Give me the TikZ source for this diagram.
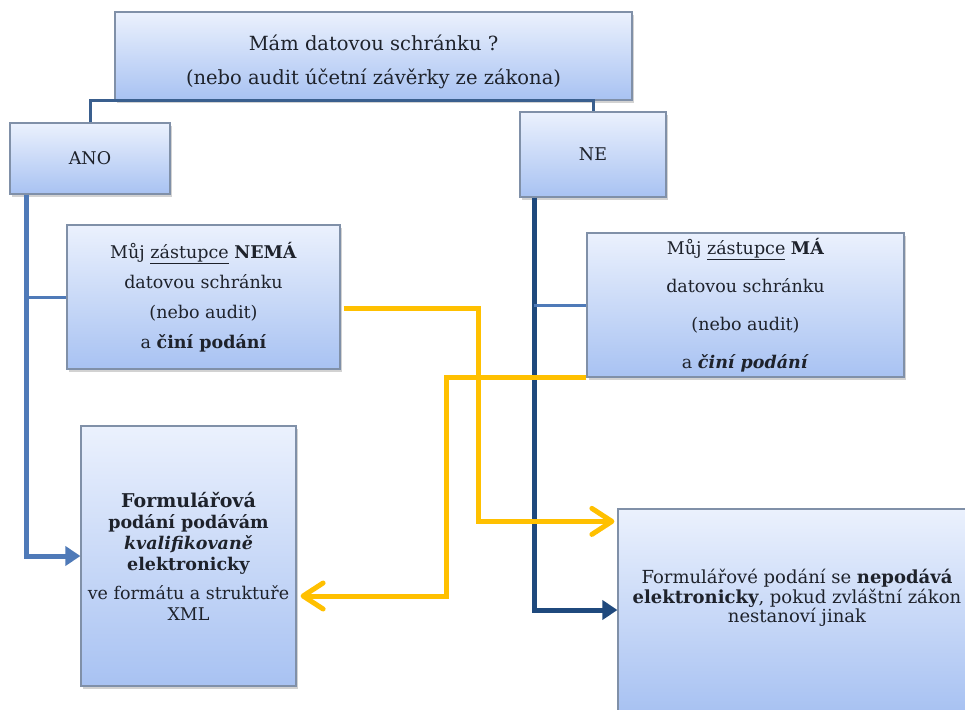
\documentclass[tikz,border=0pt]{standalone}
\usepackage{fontspec}
\setmainfont{DejaVu Serif}
\usetikzlibrary{arrows.meta, positioning, calc, shadows}
\definecolor{boxtop}{HTML}{EBF1FD}
\definecolor{boxbot}{HTML}{A8C2F2}
\definecolor{boxedge}{HTML}{8090A8}
\definecolor{anoblue}{HTML}{4F7AB8}
\definecolor{neblue}{HTML}{1F497D}
\definecolor{topblue}{HTML}{3A5F8E}
\definecolor{gold}{HTML}{FFC000}
\definecolor{ink}{HTML}{1E222B}

\begin{document}
\begin{tikzpicture}[x=1pt, y=-1pt, text=ink,
   box/.style={rectangle, draw=boxedge, line width=1.2pt, top color=boxtop, bottom color=boxbot,
     inner sep=0pt, align=center, drop shadow={shadow xshift=2pt, shadow yshift=-3pt, opacity=.35}},
   stem/.style={line width=5pt},
   twig/.style={line width=3pt},
   tip/.style={-{Triangle[length=15pt, width=19pt]}},
   goldarrow/.style={gold, line width=5pt, -{Straight Barb[length=20pt, width=26pt, round]}}]
\path[use as bounding box, fill=white] (0,0) rectangle (965,709);
\clip (0,0) rectangle (965,709);

\node[box, minimum width=517pt, minimum height=88pt, font=\fontsize{19.5}{34}\selectfont] (Top) at (373.5,56)
  {\rule{0pt}{28pt}Mám datovou schránku ?\\(nebo audit účetní závěrky ze zákona)};
\node[box, minimum width=160pt, minimum height=71pt, font=\fontsize{17.5}{20}\selectfont] (ANO) at (90,158.5) {ANO};
\node[box, minimum width=146pt, minimum height=85pt, font=\fontsize{17.5}{20}\selectfont] (NE) at (593,154.5) {NE};
\node[box, minimum width=273pt, minimum height=144pt, font=\fontsize{17.5}{30}\selectfont] (Nema) at (203.5,297)
  {Můj \underline{zástupce} \textbf{NEMÁ}\\datovou schránku\\(nebo audit)\\a \textbf{činí podání}};
\node[box, minimum width=317pt, minimum height=144pt, font=\fontsize{17.5}{38}\selectfont] (Ma) at (745.5,305)
  {Můj \underline{zástupce} \textbf{MÁ}\\datovou schránku\\(nebo audit)\\a \textbf{\textit{činí podání}}};
\node[box, minimum width=215pt, minimum height=260pt, font=\fontsize{17.5}{21}\selectfont] (Formular) at (188.5,556)
  {\fontsize{19}{21}\selectfont\textbf{Formulářová}\\\textbf{podání podávám}\\\textbf{\textit{kvalifikovaně}}\\\textbf{elektronicky}\\[8pt]ve formátu a struktuře\\XML};
\node[box, minimum width=358pt, minimum height=202pt] (Nepodava) at (797,610) {};
\node[align=center, font=\fontsize{18}{19.5}\selectfont] (NepodavaTxt) at (797,598)
  {Formulářové podání se \textbf{nepodává}\\\textbf{elektronicky}, pokud zvláštní zákon\\nestanoví jinak};

\coordinate (anoStem) at ($(ANO.south west)+(17,0)$);
\coordinate (neStem) at ($(NE.south west)+(15,0)$);

\draw[topblue, twig] (ANO.north) |- (Top.south) -| (NE.north);
\draw[anoblue, stem, tip] (anoStem) |- (Formular.west);
\draw[anoblue, twig] (anoStem |- Nema.west) -- (Nema.west);
\draw[neblue, stem, tip] (neStem) |- (Nepodava.west);
\draw[anoblue, twig] (neStem |- Ma.west) -- (Ma.west);

\draw[goldarrow] ($(Nema.east)+(3,11)$) -| ($(Nepodava.north west)+(-139,13)$) -- ($(Nepodava.north west)+(-3,13)$);
\draw[goldarrow] (Ma.south west) -| ($(Formular.east)+(150,40)$) -- ($(Formular.east)+(4,40)$);
\end{tikzpicture}
\end{document}
